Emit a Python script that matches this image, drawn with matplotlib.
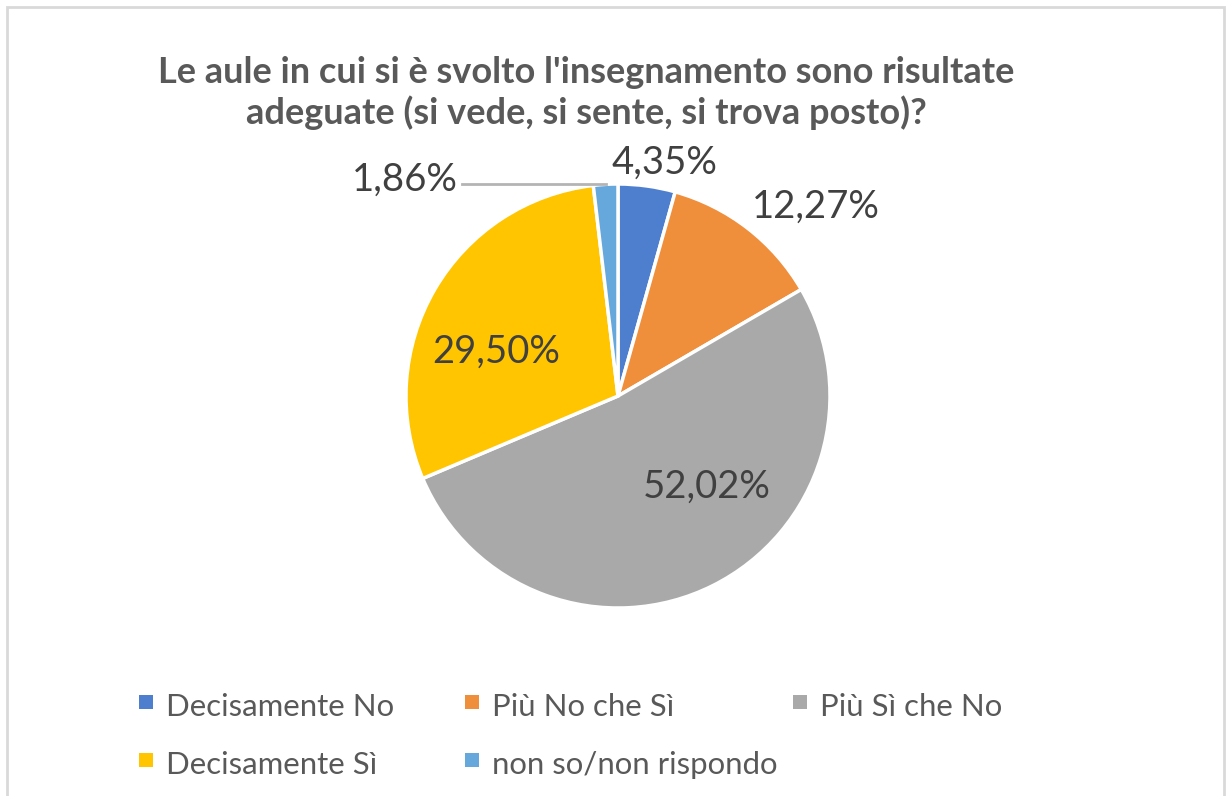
import matplotlib.pyplot as plt
from matplotlib.patches import Rectangle
import numpy as np

# data
categories = ["Decisamente No", "Più No che Sì", "Più Sì che No", "Decisamente Sì", "non so/non rispondo"]
values = [4.35, 12.27, 52.02, 29.50, 1.86]
labels = ["4,35%", "12,27%", "52,02%", "29,50%", "1,86%"]
colors = ["#4E7FCF", "#EF8E3B", "#A9A9A9", "#FFC501", "#67A8DC"]
title = "Le aule in cui si è svolto l'insegnamento sono risultate\nadeguate (si vede, si sente, si trova posto)?"

# label placement (radius, angle shift from wedge middle) - None means leader line
label_r = [1.12, 1.29, 0.60, 0.61, None]
label_shift = [-3.4, -8.5, 17.9, 10.3, 0]

# legend grid: (column, row) per category
legend_cell = [(0, 0), (1, 0), (2, 0), (0, 1), (1, 1)]
legend_x = [139 / 1226, 465 / 1226, 793 / 1226]
legend_y = [1 - 709 / 796, 1 - 767 / 796]

plt.rcParams['font.family'] = ['Lato', 'DejaVu Sans']

fig = plt.figure(figsize=(12.26, 7.96), dpi=100)
fig.patches.append(Rectangle((7 / 1226, -0.02), 1217 / 1226, 1 - 7 / 796 + 0.02,
                             transform=fig.transFigure, fill=False,
                             edgecolor="#D9D9D9", linewidth=2))

fig.text(586 / 1226, 1 - 93 / 796, title, ha="center", va="center",
         fontsize=26, fontweight="bold", color="#595959", linespacing=1.2)

ax = fig.add_axes([406 / 1226, 188 / 796, 424 / 1226, 424 / 796])
wedges, _ = ax.pie(values, colors=colors, startangle=90, counterclock=False,
                   wedgeprops=dict(edgecolor="white", linewidth=2.5))
ax.set_xlim(-1, 1)
ax.set_ylim(-1, 1)
ax.set_aspect("equal")

for w, lab, r, sh in zip(wedges, labels, label_r, label_shift):
    mid = np.deg2rad((w.theta1 + w.theta2) / 2)
    if r is None:
        ex, ey = np.cos(mid), np.sin(mid)
        ax.plot([ex, -0.735], [ey, ey], color="#B4B4B4", lw=2, clip_on=False)
        ax.text(-0.755, ey + 0.02, lab, ha="right", va="center", fontsize=27.5, color="#404040")
    else:
        a = mid + np.deg2rad(sh)
        ax.text(r * np.cos(a), r * np.sin(a), lab, ha="center", va="center",
                fontsize=27.5, color="#404040")

for cat, col, (c, r) in zip(categories, colors, legend_cell):
    fig.patches.append(Rectangle((legend_x[c], legend_y[r]), 14 / 1226, 14 / 796,
                                 transform=fig.transFigure, facecolor=col, edgecolor="none"))
    fig.text(legend_x[c] + 27 / 1226, legend_y[r] + 2 / 796, cat, ha="left", va="center",
             fontsize=22.4, color="#595959")

fig.savefig("out.png", dpi=100)
